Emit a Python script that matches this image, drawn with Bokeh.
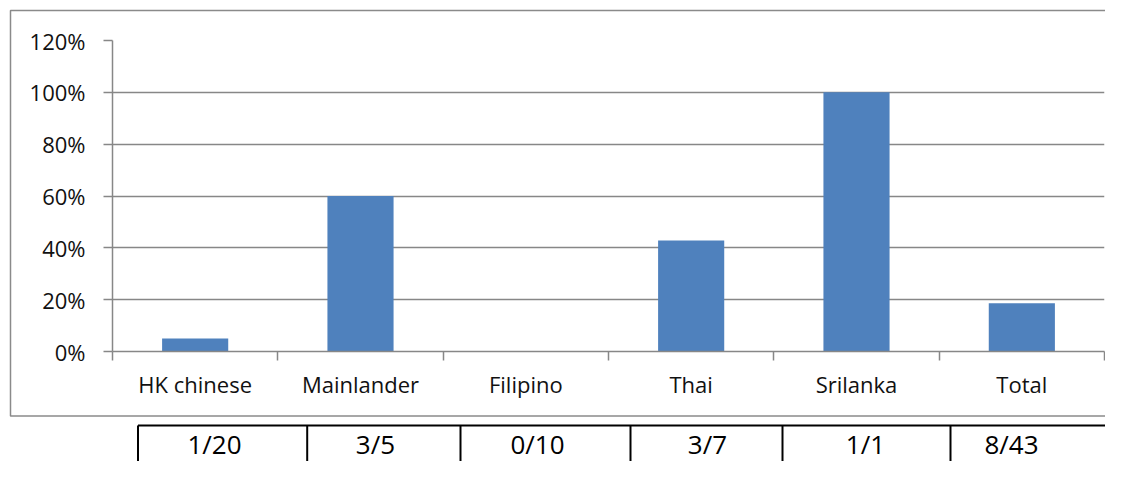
from bokeh.plotting import figure
from bokeh.models import Range1d, FixedTicker, NumeralTickFormatter
from bokeh.core.properties import value
from bokeh.embed import file_html
from bokeh.resources import INLINE

# ---- data ----
categories = ["HK chinese", "Mainlander", "Filipino", "Thai", "Srilanka", "Total"]
numerators = [1, 3, 0, 3, 1, 8]
denominators = [20, 5, 10, 7, 1, 43]
shares = [n / d for n, d in zip(numerators, denominators)]
table_labels = [f"{n}/{d}" for n, d in zip(numerators, denominators)]
y_ticks = [0, 0.2, 0.4, 0.6, 0.8, 1.0, 1.2]

# ---- layout constants (canvas pixels) ----
W, H = 1105, 461
FL, FR, FT, FB = 112, 1104, 40, 351
GRAY = "#878787"
BAR = "#4F81BD"
FONT = "Open Sans"

n = len(categories)
centers = [i + 0.5 for i in range(n)]
bounds = list(range(n + 1))

p = figure(x_range=Range1d(0, n), y_range=Range1d(0, 1.2), width=W, height=H,
           output_backend="svg", toolbar_location=None,
           min_border_left=FL, min_border_right=W - FR,
           min_border_top=FT, min_border_bottom=H - FB)
p.outline_line_color = None
p.background_fill_color = "white"
p.border_fill_color = "white"

# pixel-space helper ranges for decorations
p.extra_x_ranges = {"px": Range1d(FL, FR)}
p.extra_y_ranges = {"py": Range1d(FB, FT)}

p.vbar(x=centers, top=shares, width=0.4, color=BAR, line_color=None)

# y axis
p.yaxis.ticker = FixedTicker(ticks=y_ticks)
p.yaxis.formatter = NumeralTickFormatter(format="0%")
p.yaxis.major_label_text_font = FONT
p.yaxis.major_label_text_font_size = "22px"
p.yaxis.major_label_text_color = "#111111"
p.yaxis.major_tick_out = 9
p.yaxis.major_tick_in = 0
p.yaxis.minor_tick_line_color = None
p.yaxis.major_tick_line_color = GRAY
p.yaxis.major_tick_line_width = 1.5
p.yaxis.axis_line_color = GRAY
p.yaxis.axis_line_width = 1.5
p.yaxis.major_label_standoff = 18

# x axis: labels at category centres, ticks at category boundaries
p.xaxis.ticker = FixedTicker(ticks=centers, minor_ticks=bounds)
p.xaxis.major_label_overrides = {c: lab for c, lab in zip(centers, categories)}
p.xaxis.major_label_text_font = FONT
p.xaxis.major_label_text_font_size = "22px"
p.xaxis.major_label_text_color = "#111111"
p.xaxis.major_tick_line_color = None
p.xaxis.major_tick_out = 0
p.xaxis.major_tick_in = 0
p.xaxis.minor_tick_line_color = GRAY
p.xaxis.minor_tick_line_width = 1.5
p.xaxis.minor_tick_out = 9
p.xaxis.minor_tick_in = 0
p.xaxis.axis_line_color = GRAY
p.xaxis.axis_line_width = 1.5
p.xaxis.major_label_standoff = 8

p.xgrid.grid_line_color = None
p.ygrid.grid_line_color = GRAY
p.ygrid.grid_line_width = 1.5

# chart border (extends past right edge)
p.multi_line(xs=[[1130, 10, 10, 1130]], ys=[[10, 10, 415.5, 415.5]],
             x_range_name="px", y_range_name="py", line_color="#8a8a8a",
             line_width=1.5, level="overlay")

# table below
col_edges = [137.5, 306.7, 460, 630, 782, 950]
text_x = [214, 375, 537, 707, 865, 1011]
TABLE_TOP = 425
p.segment(x0=col_edges, x1=col_edges, y0=[TABLE_TOP] * len(col_edges), y1=[490] * len(col_edges),
          x_range_name="px", y_range_name="py", line_color="black", line_width=2,
          level="overlay")
p.segment(x0=[137.5], x1=[1130], y0=[TABLE_TOP], y1=[TABLE_TOP],
          x_range_name="px", y_range_name="py", line_color="black", line_width=2,
          level="overlay")
p.text(x=text_x, y=[443] * len(text_x), text=table_labels,
       x_range_name="px", y_range_name="py", text_font=value(FONT),
       text_font_size="26px", text_align="center", text_baseline="alphabetic",
       text_color="black", level="overlay")

open("out.html", "w").write(file_html(p, INLINE))
